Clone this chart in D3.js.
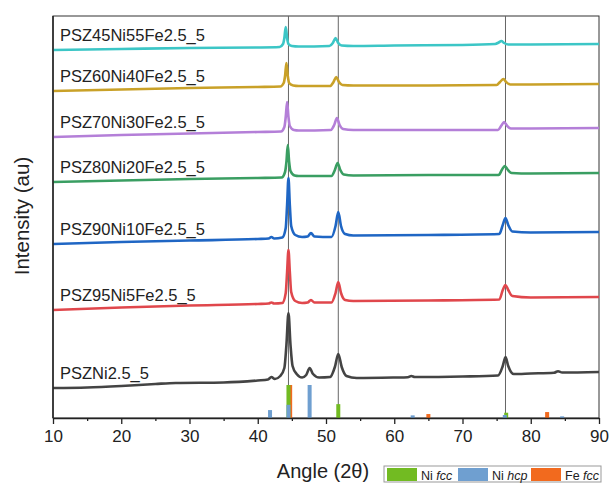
<!DOCTYPE html>
<html>
<head>
<meta charset="utf-8">
<script src="https://cdn.jsdelivr.net/npm/d3@7"></script>
<style>
  body { margin: 0; background: #fff; }
  svg { font-family: "Liberation Sans", Arial, sans-serif; }
</style>
</head>
<body>
<svg id="chart" width="609" height="483"></svg>
<script>
// sample names, top to bottom
var names = ["PSZ45Ni55Fe2.5_5", "PSZ60Ni40Fe2.5_5", "PSZ70Ni30Fe2.5_5", "PSZ80Ni20Fe2.5_5",
             "PSZ90Ni10Fe2.5_5", "PSZ95Ni5Fe2.5_5", "PSZNi2.5_5"];
var colors = ["#3cc6c6", "#c9a128", "#b47fd8", "#3a9e62", "#1f66c4", "#e0474c", "#444444"];

// [angle, intensity (stacked, au)]
var ni55 = [[10,368],[20,369],[30,370],[40,370.5],[43.2,371],[43.7,374],[43.9,380],[44.1,391],[44.3,380],[44.5,374],[45,372],[46,371.5],
  [50.5,372],[51.0,375],[51.4,380],[51.8,375],[52.3,372.5],[54,372],[60,372.5],[70,373],[74.8,374],[75.3,375.5],[75.7,377],[76.1,375],
  [76.7,373.5],[80,373.5],[90,374]];
var ni40 = [[10,327],[20,328.5],[30,330],[40,331],[43.3,331.5],[43.8,335],[44.0,342],[44.2,355],[44.4,342],[44.6,335],[45.2,332.5],[46,332],
  [50.6,332],[51.1,336],[51.5,341],[51.9,336],[52.4,333],[54,332.5],[65,332.5],[75,333],[75.5,336],[76.0,339],[76.4,336],[77,333.5],
  [80,333.5],[90,334]];
var ni30 = [[10,281],[20,283],[30,284.5],[40,286],[43.4,286.5],[43.9,291],[44.1,301],[44.3,316],[44.5,301],[44.7,292],[45.3,288],[46,287.5],
  [50.7,288],[51.2,293],[51.6,300],[52.0,293],[52.5,289],[54,288],[65,288],[75.2,288],[75.7,292.5],[76.1,296],[76.5,292.5],[77.1,289.5],
  [80,289.5],[90,290]];
var ni20 = [[10,236],[20,237.5],[30,239],[40,240],[43.5,240.5],[44.0,246],[44.2,256],[44.4,273],[44.6,256],[44.8,247],[45.4,242.5],[46,242],
  [50.8,242],[51.3,248],[51.7,255],[52.1,248],[52.6,243.5],[54,242.5],[65,243],[75.3,243],[75.8,248.5],[76.2,252],[76.6,248.5],[77.2,245],
  [80,244.5],[90,245]];
var ni10 = [[10,174],[20,176],[30,177.5],[40,179],[41.6,179.5],[42.0,181],[42.4,179.5],[43.6,180.5],[44.1,190],[44.3,213],[44.5,240],[44.7,213],
  [44.9,192],[45.5,183],[46.5,181],[47.3,181.5],[47.8,185],[48.3,181.5],[50.8,181],[51.4,192],[51.8,206],[52.2,192],[52.8,184],[54,182.5],
  [65,183],[75.4,184],[75.9,193],[76.3,200],[76.7,193],[77.3,186.5],[80,185.5],[90,186]];
var ni5 = [[10,108],[20,110.5],[30,112.5],[40,114],[41.6,114.5],[42.0,115.5],[42.4,114.5],[43.6,115],[44.1,125],[44.3,146],[44.5,168],[44.7,146],
  [44.9,126],[45.5,117],[46.5,115],[47.3,115.5],[47.8,118],[48.3,115.5],[50.8,115.5],[51.4,125],[51.8,136],[52.2,125],[52.8,118],[54,117],
  [65,117.5],[75.4,118.5],[75.9,128],[76.3,133],[76.7,128],[77.3,122],[80,120.5],[90,121]];
var ni0 = [[10,30],[15,30.5],[20,32],[25,34],[28,35],[35,35.5],[40,37.5],[41.5,38.5],[42.0,41],[42.5,39],[43.3,42],[43.9,50],[44.2,73],
  [44.5,105],[44.8,73],[45.1,52],[45.7,44],[46.5,40.5],[47.1,43],[47.6,50],[48.1,44],[49,40.5],[50.6,41],[51.3,51],[51.8,64],[52.3,51],
  [53,42],[54.5,40],[60,40.5],[62.0,40.8],[62.5,42],[63.0,41],[70,41.5],[75.2,42.5],[75.9,52],[76.3,61],[76.7,52],[77.5,44],[80,44.5],
  [83.4,45.2],[84,46.8],[84.6,45.5],[90,46]];
var series = [ni55, ni40, ni30, ni20, ni10, ni5, ni0];

// reference patterns [angle, relative intensity %]
var niFcc = [[44.5,100],[51.8,42],[76.4,16]];
var feFcc = [[44.75,100],[65.0,12],[82.4,18]];
var niHcp = [[41.8,24],[44.5,40],[47.6,100],[62.7,8],[76.2,9],[84.6,5]];

var guides = [44.5, 51.8, 76.3];
var xTicks = [10, 20, 30, 40, 50, 60, 70, 80, 90];
var xMinor = [15, 25, 35, 45, 55, 65, 75, 85];

var svg = d3.select("#chart");
var mLeft = 53, mRight = 599, mTop = 16, mBottom = 418;

var x = d3.scaleLinear().domain([10, 90]).range([mLeft, mRight]);
var y = d3.scaleLinear().domain([0, 402]).range([mBottom, mTop]);
var yRef = d3.scaleLinear().domain([0, 100]).range([mBottom, mBottom - 33]);

// frame
svg.append("rect")
   .attr("x", mLeft).attr("y", mTop)
   .attr("width", mRight - mLeft).attr("height", mBottom - mTop)
   .attr("fill", "none").attr("stroke", "#333").attr("stroke-width", 1);

// guide lines
svg.selectAll(".guide").data(guides).enter().append("line")
   .attr("class", "guide")
   .attr("x1", function(d){ return x(d); }).attr("x2", function(d){ return x(d); })
   .attr("y1", mTop).attr("y2", mBottom)
   .attr("stroke", "#666").attr("stroke-width", 1);

var line = d3.line()
   .x(function(d){ return x(d[0]); })
   .y(function(d){ return y(d[1]); })
   .curve(d3.curveMonotoneX);

svg.selectAll(".trace").data(series).enter().append("path")
   .attr("class", "trace")
   .attr("d", line)
   .attr("fill", "none")
   .attr("stroke", function(d, i){ return colors[i]; })
   .attr("stroke-width", 2.6)
   .attr("stroke-linejoin", "round");

svg.selectAll(".name").data(series).enter().append("text")
   .attr("class", "name")
   .attr("x", mLeft + 7)
   .attr("y", function(d){ return y(d[0][1]) - 9; })
   .style("font-size", "16.5px")
   .attr("fill", "#222")
   .text(function(d, i){ return names[i]; });

// reference sticks
function sticks(data, color, cls){
  svg.selectAll("." + cls).data(data).enter().append("rect")
     .attr("class", cls)
     .attr("x", function(d){ return x(d[0]) - 2; })
     .attr("y", function(d){ return yRef(d[1]); })
     .attr("width", 4)
     .attr("height", function(d){ return mBottom - yRef(d[1]); })
     .attr("fill", color);
}
sticks(feFcc, "#f26a1e", "fe");
sticks(niFcc, "#72bb22", "fcc");
sticks(niHcp, "#6f9fd0", "hcp");

// x axis
var xAxis = svg.append("g")
   .attr("transform", "translate(0," + mBottom + ")")
   .call(d3.axisBottom(x).tickValues(xTicks).tickSize(6).tickSizeOuter(0).tickPadding(6));
xAxis.select(".domain").attr("stroke", "#222").attr("stroke-width", 1.5);
xAxis.selectAll(".tick line").attr("stroke", "#222").attr("stroke-width", 1.3);
xAxis.selectAll("text").style("font-size", "17px").attr("fill", "#222")
   .style("font-family", "Liberation Sans, Arial, sans-serif");

var minor = svg.append("g")
   .attr("transform", "translate(0," + mBottom + ")")
   .call(d3.axisBottom(x).tickValues(xMinor).tickSize(3).tickFormat(""));
minor.select(".domain").remove();
minor.selectAll(".tick line").attr("stroke", "#222").attr("stroke-width", 1.3);

// left axis line
svg.append("line")
   .attr("x1", mLeft).attr("x2", mLeft).attr("y1", mTop).attr("y2", mBottom)
   .attr("stroke", "#222").attr("stroke-width", 1.5);

// axis titles
svg.append("text")
   .attr("x", 323).attr("y", 478)
   .attr("text-anchor", "middle")
   .style("font-size", "20px").attr("fill", "#222")
   .text("Angle (2θ)");

svg.append("text")
   .attr("transform", "translate(29,216) rotate(-90)")
   .attr("text-anchor", "middle")
   .style("font-size", "20.5px").attr("fill", "#222")
   .text("Intensity (au)");

// legend
var legendItems = [["Ni ", "fcc", "#72bb22"], ["Ni ", "hcp", "#6f9fd0"], ["Fe ", "fcc", "#f26a1e"]];
var legendX = [3, 74, 147];
var legend = svg.append("g").attr("transform", "translate(384,466)");
legend.append("rect")
   .attr("width", 217).attr("height", 16)
   .attr("fill", "#fff").attr("stroke", "#999");
var lg = legend.selectAll(".legend").data(legendItems).enter().append("g")
   .attr("class", "legend")
   .attr("transform", function(d, i){ return "translate(" + legendX[i] + ",2)"; });
lg.append("rect").attr("width", 30).attr("height", 13)
   .attr("fill", function(d){ return d[2]; });
var lt = lg.append("text").attr("x", 34).attr("y", 12)
   .style("font-size", "12.5px").attr("fill", "#222");
lt.append("tspan").text(function(d){ return d[0]; });
lt.append("tspan").style("font-style", "italic").text(function(d){ return d[1]; });
</script>
</body>
</html>
